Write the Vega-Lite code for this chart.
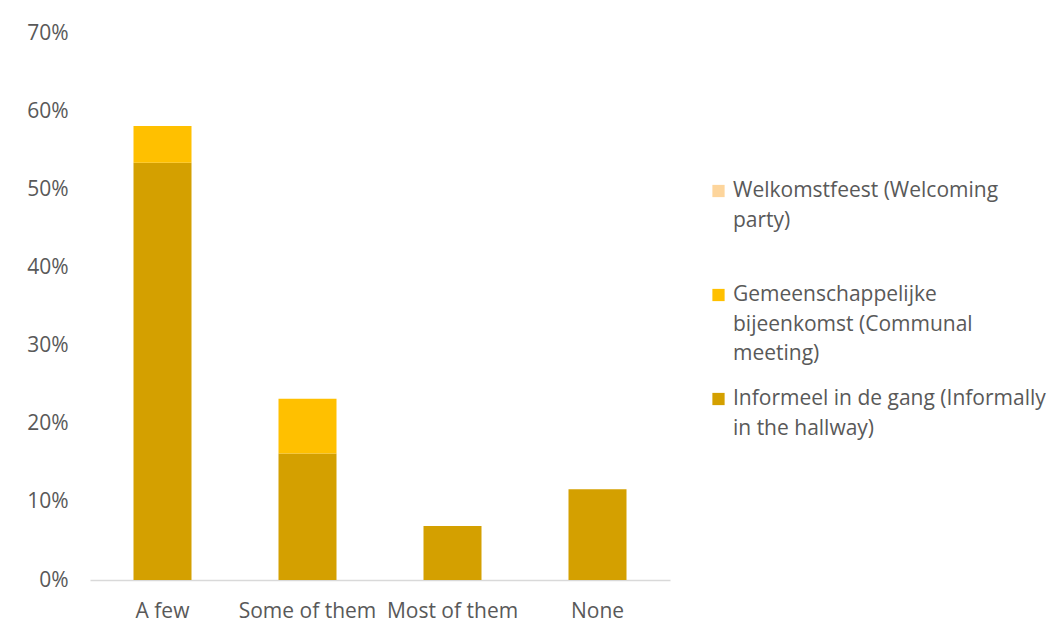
{
  "$schema": "https://vega.github.io/schema/vega-lite/v6.json",
  "width": 580,
  "height": 547,
  "autosize": {"type": "none"},
  "padding": {"left": 90, "top": 33, "right": 389, "bottom": 58},
  "background": "white",
  "data": {
    "values": [
      {"cat": "A few", "type": "Informeel in de gang (Informally in the hallway)", "value": 0.534},
      {"cat": "A few", "type": "Gemeenschappelijke bijeenkomst (Communal meeting)", "value": 0.047},
      {"cat": "A few", "type": "Welkomstfeest (Welcoming party)", "value": 0},
      {"cat": "Some of them", "type": "Informeel in de gang (Informally in the hallway)", "value": 0.162},
      {"cat": "Some of them", "type": "Gemeenschappelijke bijeenkomst (Communal meeting)", "value": 0.070},
      {"cat": "Some of them", "type": "Welkomstfeest (Welcoming party)", "value": 0},
      {"cat": "Most of them", "type": "Informeel in de gang (Informally in the hallway)", "value": 0.069},
      {"cat": "Most of them", "type": "Gemeenschappelijke bijeenkomst (Communal meeting)", "value": 0},
      {"cat": "Most of them", "type": "Welkomstfeest (Welcoming party)", "value": 0},
      {"cat": "None", "type": "Informeel in de gang (Informally in the hallway)", "value": 0.116},
      {"cat": "None", "type": "Gemeenschappelijke bijeenkomst (Communal meeting)", "value": 0},
      {"cat": "None", "type": "Welkomstfeest (Welcoming party)", "value": 0}
    ]
  },
  "mark": {"type": "bar"},
  "encoding": {
    "x": {
      "field": "cat",
      "type": "nominal",
      "sort": ["A few", "Some of them", "Most of them", "None"],
      "scale": {"paddingInner": 0.6, "paddingOuter": 0.3},
      "axis": {"title": null, "labelAngle": 0, "ticks": false, "labelPadding": 20, "domainColor": "#D9D9D9", "domainWidth": 1.5}
    },
    "y": {
      "field": "value",
      "type": "quantitative",
      "stack": "zero",
      "scale": {"domain": [0, 0.7]},
      "axis": {"title": null, "format": ".0%", "values": [0, 0.1, 0.2, 0.3, 0.4, 0.5, 0.6, 0.7], "grid": false, "domain": false, "ticks": false, "labelPadding": 22}
    },
    "color": {
      "field": "type",
      "type": "nominal",
      "scale": {
        "domain": ["Welkomstfeest (Welcoming party)", "Gemeenschappelijke bijeenkomst (Communal meeting)", "Informeel in de gang (Informally in the hallway)"],
        "range": ["#FDD59C", "#FFC000", "#D4A000"]
      },
      "legend": {
        "title": null,
        "orient": "none",
        "legendX": 618,
        "legendY": 147.5,
        "symbolType": "square",
        "symbolSize": 150,
        "symbolStrokeWidth": 0,
        "labelLimit": 400,
        "labelOffset": 4,
        "rowPadding": 23,
        "labelBaseline": "middle",
        "labelExpr": "datum.label == 'Welkomstfeest (Welcoming party)' ? ['Welkomstfeest (Welcoming', 'party)', ''] : datum.label == 'Gemeenschappelijke bijeenkomst (Communal meeting)' ? ['Gemeenschappelijke', 'bijeenkomst (Communal', 'meeting)'] : ['Informeel in de gang (Informally', 'in the hallway)']"
      }
    },
    "order": {"field": "type", "sort": "descending"}
  },
  "config": {
    "view": {"stroke": null},
    "font": "Open Sans",
    "axis": {"labelFont": "Open Sans", "labelFontSize": 21, "labelColor": "#595959"},
    "legend": {"labelFont": "Open Sans", "labelFontSize": 21, "labelColor": "#595959"},
    "style": {"guide-label": {"lineHeight": 29.5}}
  }
}
